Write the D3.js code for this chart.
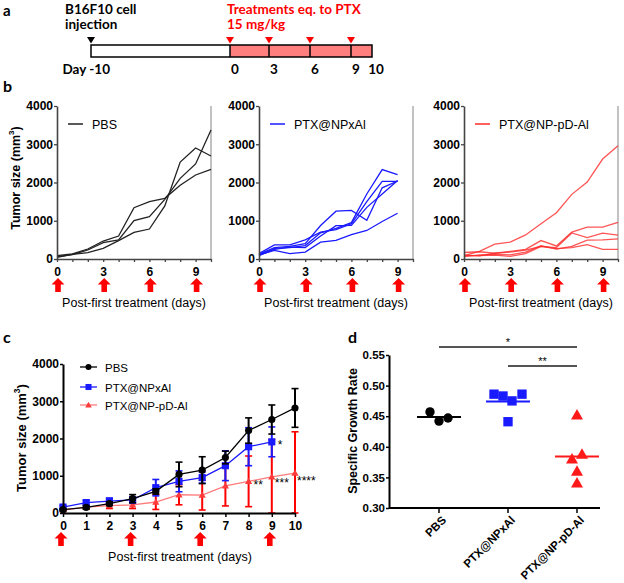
<!DOCTYPE html>
<html><head><meta charset="utf-8">
<script src="https://cdn.jsdelivr.net/npm/d3@7"></script>
<style>
body{margin:0;background:#fff}
svg text{font-family:"Liberation Sans",Arial,sans-serif}
</style>
</head><body>
<svg id="fig" width="624" height="583"></svg>
<script>
// ---------- DATA ----------
const timelineDays = [-10, 0, 3, 6, 9, 10];
const treatmentDays = [0, 3, 6, 9];
const days = [0, 1, 2, 3, 4, 5, 6, 7, 8, 9, 10];
const groups = ["PBS", "PTX@NPxAl", "PTX@NP-pD-Al"];
const sizeTicks = [0, 1000, 2000, 3000, 4000];

// panel b: individual mice (tumor size, mm3)
const pbsMice = [
  [87, 131, 261, 470, 601, 1342, 1499, 1586, 1926, 2196, 2344],
  [61, 113, 235, 427, 497, 1002, 1107, 1560, 2109, 2484, 3373],
  [44, 120, 166, 279, 479, 697, 784, 1386, 2536, 2902, 2693]
];
const npxMice = [
  [120, 300, 330, 400, 874, 1250, 1270, 1013, 1861, 2040],
  [100, 280, 300, 350, 684, 800, 950, 1700, 2338, 2208],
  [140, 370, 370, 500, 700, 770, 920, 1500, 2030, 2030],
  [90, 250, 310, 300, 600, 870, 880, 1350, 1700, 2052],
  [110, 225, 139, 182, 442, 486, 640, 746, 980, 1197]
];
const pdMice = [
  [88, 200, 390, 440, 630, 920, 1210, 1690, 2010, 2614, 2963],
  [170, 190, 150, 200, 254, 482, 342, 702, 833, 833, 956],
  [100, 80, 150, 180, 230, 330, 300, 680, 561, 675, 623],
  [60, 110, 120, 110, 180, 350, 260, 330, 491, 500, 526],
  [90, 90, 100, 70, 140, 330, 270, 300, 377, 254, 254]
];

// panel c: mean +/- SD
const pbsMean = [90, 150, 250, 384, 580, 1036, 1150, 1490, 2214, 2510, 2820];
const pbsErr  = [30, 40, 50, 110, 70, 330, 360, 170, 340, 390, 520];
const npxMean = [160, 280, 320, 350, 680, 850, 950, 1270, 1780, 1910];
const npxErr  = [40, 60, 80, 80, 220, 280, 150, 400, 510, 400];
const pdMean  = [80, 160, 200, 220, 295, 490, 480, 730, 850, 970, 1070];
const pdErr   = [30, 50, 80, 100, 200, 270, 400, 540, 680, 1000, 1110];
const cStars = [
  {day: 9, value: 1910, label: "*"},
  {day: 8, value: 850, label: "**"},
  {day: 9, value: 970, label: "***"},
  {day: 10, value: 1070, label: "****"}
];

// panel d: specific growth rate
const pbsSGR = [0.457, 0.442, 0.447];
const npxSGR = [0.486, 0.483, 0.475, 0.486, 0.441];
const pdSGR  = [0.452, 0.380, 0.388, 0.360, 0.341];
const dTicks = [0.30, 0.35, 0.40, 0.45, 0.50, 0.55];
const sigBars = [
  {from: "PBS", to: "PTX@NP-pD-Al", label: "*"},
  {from: "PTX@NPxAl", to: "PTX@NP-pD-Al", label: "**"}
];

// ---------- DRAW ----------
const svg = d3.select("#fig");
const RED = "#ff0000";
const BLUE = "#1a1aff";
const AX_FONT = "'Liberation Sans',Arial,sans-serif";

function arrowPath(cx, top) {
  const hw = 6.5, sw = 2.8, hh = 6.5, h = 14;
  return `M${cx},${top} L${cx+hw},${top+hh} L${cx+sw},${top+hh} L${cx+sw},${top+h} L${cx-sw},${top+h} L${cx-sw},${top+hh} L${cx-hw},${top+hh} Z`;
}
function letter(t, x, y, fs) {
  svg.append("text").attr("x", x).attr("y", y).text(t)
    .style("font-family", "Lato, 'Open Sans', sans-serif")
    .attr("font-weight", "bold").attr("font-size", fs || 16);
}
function tumorTitle(g, x, y, fs) {
  const t = g.append("text").attr("transform", `translate(${x},${y}) rotate(-90)`)
    .attr("text-anchor", "middle").attr("font-weight", "bold").attr("font-size", fs);
  t.append("tspan").text("Tumor size (mm");
  t.append("tspan").text("3").attr("font-size", fs * 0.65).attr("dy", -fs * 0.45);
  t.append("tspan").text(")").attr("dy", fs * 0.45);
}

// ===== Panel a =====
letter("a", 3, 15.5, 15);
const xa = d3.scaleLinear().domain(timelineDays).range([91, 230, 269, 310, 351, 372]);
const ga = svg.append("g");
const aFont = "Lato, 'Open Sans', sans-serif";
[["B16F10 cell", 65, 14, "#000"], ["injection", 65, 29, "#000"],
 ["Treatments eq. to PTX", 227, 14, RED], ["15 mg/kg", 227, 29, RED]].forEach(([t, x, y, c]) => {
  ga.append("text").attr("x", x).attr("y", y).text(t).attr("fill", c)
    .style("font-family", aFont).attr("font-weight", "bold").attr("font-size", 13.5);
});
ga.append("rect").attr("x", xa(-10)).attr("y", 45).attr("width", xa(0) - xa(-10)).attr("height", 12)
  .attr("fill", "#fff");
ga.append("rect").attr("x", xa(0)).attr("y", 45).attr("width", xa(10) - xa(0)).attr("height", 12)
  .attr("fill", "#ff7f7f");
ga.append("rect").attr("x", xa(-10)).attr("y", 45).attr("width", xa(10) - xa(-10)).attr("height", 12)
  .attr("fill", "none").attr("stroke", "#000").attr("stroke-width", 1.5);
ga.selectAll("line.div").data(treatmentDays).join("line")
  .attr("x1", d => xa(d)).attr("x2", d => xa(d)).attr("y1", 45).attr("y2", 57)
  .attr("stroke", "#000").attr("stroke-width", 1.5);
ga.selectAll("path.tri").data([-10].concat(treatmentDays)).join("path")
  .attr("d", d => `M${xa(d)-4},37 L${xa(d)+4},37 L${xa(d)},43.5 Z`)
  .attr("fill", d => d < 0 ? "#000" : RED);
ga.append("text").attr("x", xa(-10) + 19).attr("y", 74).attr("text-anchor", "end").text("Day -10")
  .style("font-family", aFont).attr("font-weight", "bold").attr("font-size", 13.5);
ga.selectAll("text.dl").data([0, 3, 6, 9, 10]).join("text")
  .attr("x", d => xa(d) + (d === 10 ? 4 : 5)).attr("y", 74).attr("text-anchor", "middle").text(d => d)
  .style("font-family", aFont).attr("font-weight", "bold").attr("font-size", 13.5);

// ===== Panel b =====
letter("b", 3, 92);
function styleAxis(a, color, dw, tw, fs) {
  a.attr("font-family", null);
  a.selectAll("text").attr("font-weight", "bold").attr("font-size", fs)
    .style("font-family", AX_FONT).attr("fill", "#000");
  a.select(".domain").attr("stroke", color).attr("stroke-width", dw);
  a.selectAll(".tick line").attr("stroke", color).attr("stroke-width", tw);
}
function smallPanel(x0, x1, mice, color, label, withTitle, opac) {
  const g = svg.append("g");
  const x = d3.scaleLinear().domain([0, 10]).range([x0, x1]);
  const y = d3.scaleLinear().domain([0, 4000]).range([259, 106]);
  g.append("line").attr("x1", x1).attr("x2", x1).attr("y1", 106).attr("y2", 259)
    .attr("stroke", "#999").attr("stroke-width", 1.2);
  const line = d3.line().x((d, i) => x(days[i])).y(d => y(d));
  g.selectAll("path.m").data(mice).join("path")
    .attr("d", line).attr("fill", "none").attr("stroke", color)
    .attr("stroke-width", 1.3).attr("stroke-opacity", opac);
  const ya = g.append("g").attr("transform", `translate(${x0},0)`)
    .call(d3.axisLeft(y).tickValues(sizeTicks).tickFormat(d3.format("d")).tickSize(3).tickPadding(1).tickSizeOuter(0));
  const xax = g.append("g").attr("transform", `translate(0,259)`)
    .call(d3.axisBottom(x).tickValues(days).tickSize(3).tickPadding(5).tickSizeOuter(0)
      .tickFormat(d => (d % 3 === 0 && d < 10) ? d : ""));
  styleAxis(ya, "#444", 1.6, 1.3, 12);
  styleAxis(xax, "#444", 1.6, 1.3, 12);
  g.append("line").attr("x1", x0 + 11).attr("x2", x0 + 26).attr("y1", 124).attr("y2", 124)
    .attr("stroke", color).attr("stroke-width", 1.5);
  g.append("text").attr("x", x0 + 35).attr("y", 128.5).text(label).attr("font-size", 12.5);
  g.selectAll("path.arr").data(treatmentDays).join("path")
    .attr("d", d => arrowPath(x(d) + 1, 278)).attr("fill", RED);
  g.append("text").attr("x", (x0 + x1) / 2).attr("y", 306.5).attr("text-anchor", "middle")
    .text("Post-first treatment (days)").attr("font-size", 12.5);
  if (withTitle) tumorTitle(g, 20, 178, 12.5);
}
smallPanel(57, 211, pbsMice, "#222", groups[0], true, 1);
smallPanel(259, 413, npxMice, BLUE, groups[1], false, 1);
smallPanel(464, 618, pdMice, "#ff2a2a", groups[2], false, 0.8);

// ===== Panel c =====
letter("c", 3, 343);
const gc = svg.append("g");
const xC = d3.scaleLinear().domain([0, 10]).range([63, 295]);
const yC = d3.scaleLinear().domain([0, 4000]).range([513, 364]);
const series = [
  {name: groups[2], mean: pdMean, err: pdErr, line: "#ff7a7a", mark: "#ff3b3b", errc: RED, shape: "tri"},
  {name: groups[1], mean: npxMean, err: npxErr, line: BLUE, mark: BLUE, errc: BLUE, shape: "sq"},
  {name: groups[0], mean: pbsMean, err: pbsErr, line: "#000", mark: "#000", errc: "#000", shape: "circ"}
];
function marker(g, shape, cx, cy, color, s) {
  if (shape === "circ") g.append("circle").attr("cx", cx).attr("cy", cy).attr("r", s * 0.55).attr("fill", color);
  else if (shape === "sq") g.append("rect").attr("x", cx - s * 0.55).attr("y", cy - s * 0.55)
    .attr("width", s * 1.1).attr("height", s * 1.1).attr("fill", color);
  else g.append("path").attr("d", `M${cx},${cy - s * 0.6} L${cx + s * 0.6},${cy + s * 0.45} L${cx - s * 0.6},${cy + s * 0.45} Z`)
    .attr("fill", color);
}
series.forEach(s => {
  const pts = s.mean.map((m, i) => ({d: days[i], m, e: s.err[i]}));
  const eg = gc.append("g");
  pts.forEach(p => {
    const top = yC(p.m + p.e), bot = yC(Math.max(0, p.m - p.e)), cx = xC(p.d);
    eg.append("line").attr("x1", cx).attr("x2", cx).attr("y1", top).attr("y2", bot)
      .attr("stroke", s.errc).attr("stroke-width", 2);
    [top, bot].forEach(yy => eg.append("line").attr("x1", cx - 3.5).attr("x2", cx + 3.5)
      .attr("y1", yy).attr("y2", yy).attr("stroke", s.errc).attr("stroke-width", 1.6));
  });
  gc.append("path").datum(pts).attr("d", d3.line().x(p => xC(p.d)).y(p => yC(p.m)))
    .attr("fill", "none").attr("stroke", s.line).attr("stroke-width", 1.3);
  pts.forEach(p => marker(gc, s.shape, xC(p.d), yC(p.m), s.mark, s.shape === "tri" ? 6 : 6.5));
});
const yax = gc.append("g").attr("transform", `translate(63,0)`)
  .call(d3.axisLeft(yC).tickValues(sizeTicks).tickFormat(d3.format("d")).tickSize(3).tickPadding(1).tickSizeOuter(0));
const xax = gc.append("g").attr("transform", `translate(0,513)`)
  .call(d3.axisBottom(xC).tickValues(days).tickSize(4).tickPadding(4).tickSizeOuter(0));
styleAxis(yax, "#000", 2, 1.5, 12);
styleAxis(xax, "#000", 2, 1.5, 12);
tumorTitle(gc, 26, 438, 13);
gc.selectAll("path.arr").data(treatmentDays).join("path")
  .attr("d", d => arrowPath(xC(d) - 2, 532)).attr("fill", RED);
gc.append("text").attr("x", 180).attr("y", 561).attr("text-anchor", "middle")
  .text("Post-first treatment (days)").attr("font-size", 12.5);
const starOff = {"*": [6, 7], "**": [5, 8], "***": [3, 10], "****": [2, 12]};
cStars.forEach(s => {
  gc.append("text").attr("x", xC(s.day) + starOff[s.label][0]).attr("y", yC(s.value) + starOff[s.label][1])
    .text(s.label).attr("font-size", 12);
});
[series[2], series[1], series[0]].forEach((s, i) => {
  const yy = [367, 387, 405][i];
  gc.append("line").attr("x1", 80).attr("x2", 97).attr("y1", yy).attr("y2", yy)
    .attr("stroke", s.line).attr("stroke-width", 1.3);
  marker(gc, s.shape, 88.5, yy, s.mark, 5.5);
  gc.append("text").attr("x", 105).attr("y", yy + 4.5).text(s.name).attr("font-size", 11.5);
});

// ===== Panel d =====
letter("d", 348, 343);
const gd = svg.append("g");
const xD = d3.scalePoint().domain(groups).range([439, 577]);
const yD = d3.scaleLinear().domain([0.30, 0.55]).range([508, 355]);
const dSets = [
  {g: groups[0], vals: pbsSGR, color: "#000", shape: "circ", jit: [-9, 0, 9]},
  {g: groups[1], vals: npxSGR, color: BLUE, shape: "sq", jit: [-14, -5, 4, 14, 0]},
  {g: groups[2], vals: pdSGR, color: "#ff1a1a", shape: "tri", jit: [0, -5, 5, 0, 0]}
];
dSets.forEach(s => {
  const cx = xD(s.g);
  const m = d3.mean(s.vals);
  gd.append("line").attr("x1", cx - 22).attr("x2", cx + 22).attr("y1", yD(m)).attr("y2", yD(m))
    .attr("stroke", s.color).attr("stroke-width", 2);
  s.vals.forEach((v, i) => marker(gd, s.shape, cx + s.jit[i], yD(v), s.color, s.shape === "circ" ? 8.5 : (s.shape === "sq" ? 8.5 : 10)));
});
const dy = gd.append("g").attr("transform", "translate(389,0)")
  .call(d3.axisLeft(yD).tickValues(dTicks).tickFormat(d3.format(".2f")).tickSize(3).tickPadding(1).tickSizeOuter(0));
styleAxis(dy, "#000", 2, 1.5, 11.5);
gd.append("line").attr("x1", 389).attr("x2", 600).attr("y1", 508).attr("y2", 508)
  .attr("stroke", "#000").attr("stroke-width", 2);
groups.forEach(gname => {
  const cx = xD(gname);
  gd.append("line").attr("x1", cx).attr("x2", cx).attr("y1", 508).attr("y2", 513)
    .attr("stroke", "#000").attr("stroke-width", 1.5);
  gd.append("text").attr("transform", `translate(${cx + 5},${518}) rotate(-45)`)
    .attr("text-anchor", "end").attr("dy", "0.35em").text(gname)
    .attr("font-weight", "bold").attr("font-size", 11.5);
});
gd.append("text").attr("transform", "translate(357,431) rotate(-90)").attr("text-anchor", "middle")
  .text("Specific Growth Rate").attr("font-weight", "bold").attr("font-size", 12.5);
sigBars.forEach((b, i) => {
  const yy = [347, 366][i];
  gd.append("line").attr("x1", xD(b.from)).attr("x2", xD(b.to)).attr("y1", yy).attr("y2", yy)
    .attr("stroke", "#555").attr("stroke-width", 2);
  gd.append("text").attr("x", (xD(b.from) + xD(b.to)) / 2).attr("y", yy - 1).attr("text-anchor", "middle")
    .text(b.label).attr("font-size", 11);
});
</script>
</body></html>
